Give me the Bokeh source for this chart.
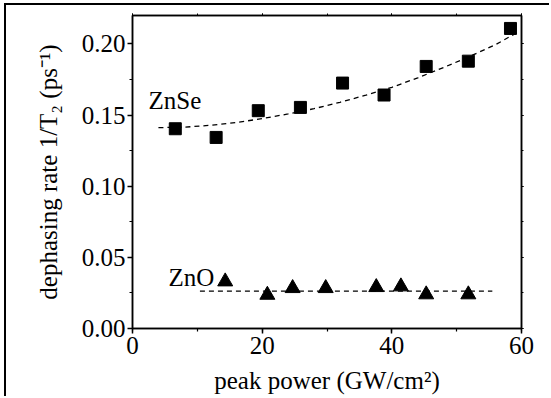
from bokeh.plotting import figure
from bokeh.models import (LinearAxis, SingleIntervalTicker, PrintfTickFormatter,
                          Range1d, CustomJSTickFormatter)
from bokeh.core.properties import value
from bokeh.embed import file_html
from bokeh.resources import INLINE

# ZnSe data (squares)
znse_x = [6.6, 12.9, 19.4, 25.9, 32.4, 38.8, 45.3, 51.8, 58.3]
znse_y = [0.1404, 0.1343, 0.1531, 0.1554, 0.1725, 0.1641, 0.1842, 0.1879, 0.2109]
# ZnSe fit curve
znse_fit_x = [4, 8, 12, 16, 20, 24, 28, 32, 36, 40, 44, 48, 52, 56, 59.5]
znse_fit_y = [0.1412, 0.1415, 0.1428, 0.1448, 0.1475, 0.1508, 0.1545, 0.1590,
              0.1640, 0.1695, 0.1762, 0.1835, 0.1912, 0.1995, 0.2085]
# ZnO data (triangles)
zno_x = [14.3, 20.8, 24.7, 29.8, 37.6, 41.4, 45.3, 51.8]
zno_y = [0.0330, 0.0236, 0.0283, 0.0283, 0.0290, 0.0295, 0.0239, 0.0239]
# ZnO fit line
zno_fit_x = [10.4, 55.5]
zno_fit_y = [0.0263, 0.0263]

labels = ["ZnSe", "ZnO"]
label_x = [2.47, 5.55]
label_y = [0.1603, 0.0358]

FONT = "Liberation Serif"

p = figure(width=545, height=393, output_backend="svg", toolbar_location=None,
           x_range=Range1d(0, 60), y_range=Range1d(0, 0.22),
           min_border_left=126, min_border_right=30, min_border_top=10,
           min_border_bottom=70, x_axis_label="peak power (GW/cm²)",
           y_axis_label="dephasing rate 1/T₂ (ps⁻¹)")
p.styles = {"margin-left": "4px", "margin-top": "3px",
            "border-left": "2px solid black", "border-top": "2px solid black"}
p.grid.visible = False
p.outline_line_color = "black"
p.outline_line_width = 1.5
p.background_fill_color = "white"
p.border_fill_color = "white"

xa = p.xaxis[0]
ya = p.yaxis[0]
xa.ticker = SingleIntervalTicker(interval=20, num_minor_ticks=2)
ya.ticker = SingleIntervalTicker(interval=0.05, num_minor_ticks=2)
ya.formatter = PrintfTickFormatter(format="%.2f")
for ax in (xa, ya):
    ax.axis_line_width = 1.5
    ax.axis_line_color = "black"
    ax.major_tick_line_width = 1.5
    ax.minor_tick_line_width = 1.2
    ax.major_tick_out = 5
    ax.major_tick_in = 0
    ax.minor_tick_out = 3
    ax.minor_tick_in = 0
    ax.major_label_text_font = FONT
    ax.major_label_text_font_size = "25px"
    ax.major_label_text_color = "black"
    ax.axis_label_text_font = FONT
    ax.axis_label_text_font_size = "25px"
    ax.axis_label_text_font_style = "normal"
    ax.axis_label_text_color = "black"
xa.major_label_standoff = 3
xa.axis_label_standoff = 10
ya.major_label_standoff = 2
ya.axis_label_standoff = 17

blank = CustomJSTickFormatter(code="return ''")
top = LinearAxis(ticker=SingleIntervalTicker(interval=20, num_minor_ticks=2), formatter=blank)
right = LinearAxis(ticker=SingleIntervalTicker(interval=0.05, num_minor_ticks=2), formatter=blank)
for ax in (top, right):
    ax.axis_line_width = 1.5
    ax.major_tick_out = 2
    ax.major_tick_in = 0
    ax.minor_tick_out = 2
    ax.minor_tick_in = 0
    ax.major_label_text_font_size = "1px"
    ax.major_label_standoff = 0
p.add_layout(top, "above")
p.add_layout(right, "right")

p.line(znse_fit_x, znse_fit_y, line_color="black", line_width=1.3, line_dash="5 4")
p.line(zno_fit_x, zno_fit_y, line_color="black", line_width=1.3, line_dash="5 4")
p.scatter(znse_x, znse_y, marker="square", size=12, color="black")
p.scatter(zno_x, zno_y, marker="triangle", size=15, color="black")
p.text(x=label_x, y=label_y, text=labels, text_font=value(FONT),
       text_font_size="25px", text_color="black", text_baseline="alphabetic",
       text_align="left")

open("out.html", "w").write(file_html(p, INLINE))
